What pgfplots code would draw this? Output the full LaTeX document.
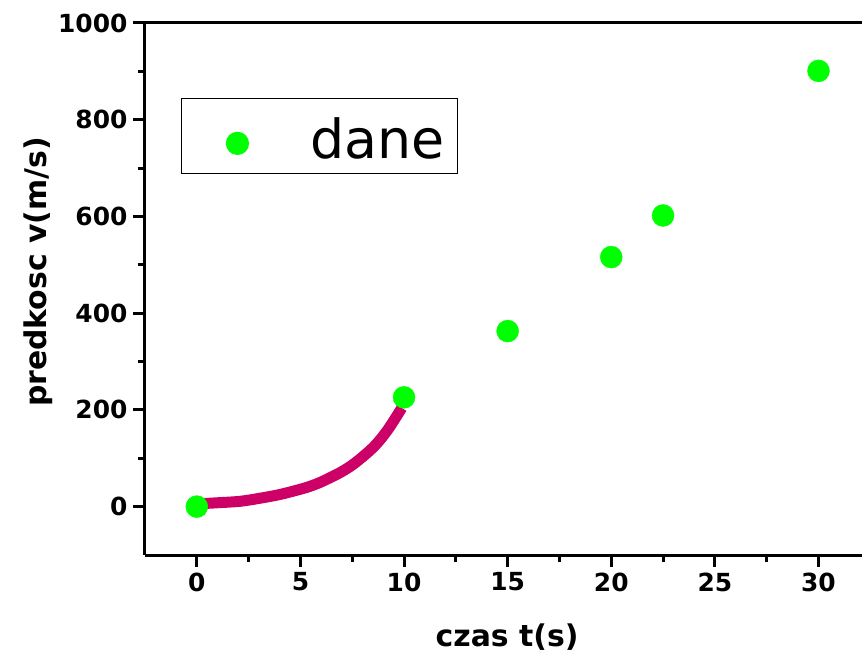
\documentclass[border=0pt]{standalone}
\usepackage{fontspec}
\setmainfont{DejaVu Sans}
\usepackage{pgfplots}
\pgfplotsset{compat=1.18}
\definecolor{dgreen}{HTML}{00FF00}
\definecolor{curvec}{HTML}{CC0066}
\begin{document}
\begin{tikzpicture}
\begin{axis}[name=ax, scale only axis, width=717bp, height=532bp,
 xmin=-2.5, xmax=32.1, ymin=-100, ymax=1000,
 axis x line=box, axis y line=left,
 axis line style={-, line width=3bp, black},
 xtick={0,5,...,30}, ytick={0,200,...,1000},
 minor x tick num=1, minor y tick num=1,
 xtick pos=left, ytick pos=left, xticklabel pos=left,
 tick align=outside,
 major tick length=12bp, minor tick length=7bp,
 every tick/.style={black, line width=3bp},
 /pgf/number format/assume math mode=true,
 /pgf/number format/1000 sep={},
 ticklabel style={font=\fontsize{25}{25}\selectfont\bfseries},
 xticklabel style={yshift=-2bp},
 yticklabel style={xshift=-2bp},
 xlabel={czas t(s)}, ylabel={predkosc v(m/s)},
 label style={font=\fontsize{30}{30}\selectfont\bfseries},
 xlabel style={at={(axis description cs:0.505,-0.154)}, anchor=center},
 ylabel style={at={(axis description cs:-0.149,0.532)}, anchor=center, rotate=0},
 legend style={at={(0.050,0.859)}, anchor=north west, draw=black, line width=1.2bp,
   font=\fontsize{54}{54}\selectfont, inner sep=0bp,
   nodes={inner sep=0bp}},
 legend image code/.code={\path[draw=none,fill=none] (0bp,-20bp) rectangle (129bp,20bp); \draw plot coordinates {(56bp,-7.5bp)};},
 clip=false,
]
\addplot[only marks, mark=*, mark size=11bp, color=dgreen, mark options={draw=dgreen, fill=dgreen}]
 coordinates {(0,0) (10,226) (15,363) (20,516) (22.5,602) (30,901)};
\addlegendentry{\rule{0pt}{73bp}\raisebox{13bp}{dane}\kern13bp}
\addplot[curvec, line width=11bp, smooth, line cap=butt, forget plot]
 coordinates {(0.14,6) (1,8) (2.08,11) (3,17) (4,25) (5,36) (5.46,42) (6,51) (6.9,70) (7.5,86) (8.03,104) (8.5,122) (8.84,138) (9.2,158) (9.48,176) (9.89,204)};
\end{axis}
\pgfresetboundingbox
\path[use as bounding box] ([xshift=-145bp,yshift=-97bp]ax.south west) rectangle ([yshift=23bp]ax.north east);
\end{tikzpicture}
\end{document}
